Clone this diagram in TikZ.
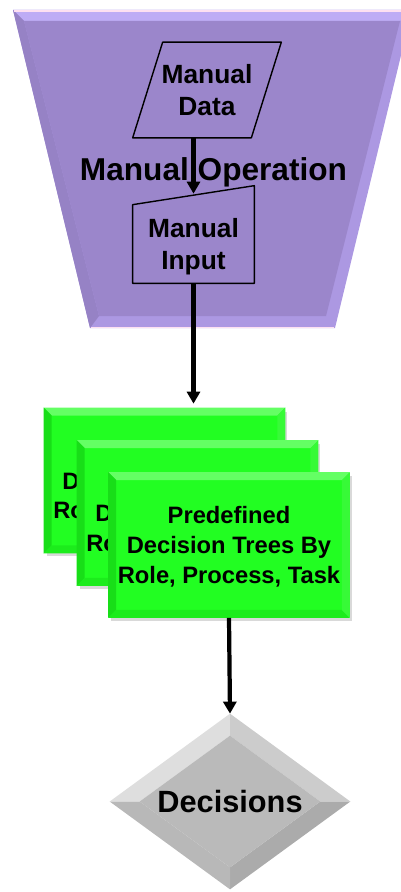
\documentclass[tikz,border=0pt]{standalone}
\usepackage{fontspec}
\setmainfont{Liberation Sans}
\usetikzlibrary{arrows.meta,positioning,shadows,backgrounds}
\definecolor{lilac}{RGB}{155,134,203}
\definecolor{lilacedge}{RGB}{172,152,226}
\definecolor{lilactop}{RGB}{190,172,245}
\definecolor{leaf}{RGB}{34,254,34}
\definecolor{leaftop}{RGB}{100,255,100}
\definecolor{leafleft}{RGB}{24,222,24}
\definecolor{leafbottom}{RGB}{28,236,28}
\definecolor{leafright}{RGB}{55,250,55}
% bevelled edge of a box node
\newcommand\bevelrect[1]{%
  \fill[leaftop] (#1.north west) -- (#1.north east) -- ([shift={(-8,8)}]#1.north east) -- ([shift={(8,8)}]#1.north west) -- cycle;
  \fill[leafleft] (#1.north west) -- ([shift={(8,8)}]#1.north west) -- ([shift={(8,-8)}]#1.south west) -- (#1.south west) -- cycle;
  \fill[leafbottom] (#1.south west) -- ([shift={(8,-8)}]#1.south west) -- ([shift={(-8,-8)}]#1.south east) -- (#1.south east) -- cycle;
  \fill[leafright] (#1.south east) -- ([shift={(-8,-8)}]#1.south east) -- ([shift={(-8,8)}]#1.north east) -- (#1.north east) -- cycle;}
\begin{document}
\begin{tikzpicture}[x=0.02cm, y=-0.02cm, line join=round, >={Triangle[width=0.26cm,length=0.24cm]},
    box/.style={fill=leaf, minimum width=4.82cm, minimum height=2.9cm, inner sep=0pt, align=center,
      font=\bfseries\fontsize{13.5}{17}\selectfont, text depth=-3.7pt,
      drop shadow={shadow xshift=0.05cm, shadow yshift=-0.07cm, opacity=0.3}},
    manual/.style={inner sep=0pt, align=center, font=\bfseries\fontsize{15}{18.5}\selectfont, text depth=-1pt},
    flow/.style={->, line width=2.4pt},
    outline/.style={draw, line width=0.8pt}]
  \useasboundingbox (0,0) rectangle (401,892);
  % funnel
  \fill[lilacedge] (13,10) -- (412,10) -- (335,328) -- (90,328) -- cycle;
  \fill[lilactop] (13,10) -- (412,10) -- (400,21) -- (24,21) -- cycle;
  \fill[lilac!97!black] (13,10) -- (24,21) -- (99,316) -- (90,328) -- cycle;
  \fill[lilac] (24,21) -- (400,21) -- (326,316) -- (99,316) -- cycle;
  \draw[magenta!12, line width=1pt] (14,11) -- (401,11) (91,327.5) -- (334,327.5);

  \node[manual, minimum width=2.36cm, minimum height=1.9cm] (data) at (207,90) {Manual\\Data};
  \draw[outline] ([xshift=0.3cm]data.north west) -- ([xshift=0.3cm]data.north east) -- ([xshift=-0.3cm]data.south east) -- ([xshift=-0.3cm]data.south west) -- cycle;
  \node[manual, minimum width=2.42cm, minimum height=1.56cm] (input) at (193.5,244) {Manual\\Input};
  \draw[outline] (input.north west) -- ([yshift=0.38cm]input.north east) -- (input.south east) -- (input.south west) -- cycle;
  \draw[flow] (data.south -| input.north) -- ([yshift=0.22cm]input.north);
  \node[font=\bfseries\fontsize{18}{20}\selectfont] (op) at (213.5,172) {Manual Operation};

  % stacked decision trees
  \node[box] (back) at (164.5,480.5) {Predefined\\Decision Trees By\\Role, Process, Task};
  \bevelrect{back}
  \node[box] (mid) at ([shift={(33,32.5)}]back.center) {Predefined\\Decision Trees By\\Role, Process, Task};
  \bevelrect{mid}
  \node[box] (front) at ([shift={(31.5,32)}]mid.center) {Predefined\\Decision Trees By\\Role, Process, Task};
  \bevelrect{front}
  \draw[flow] (input.south) -- ([yshift=0.08cm]input.south |- back.north);

  % decisions
  \node[font=\bfseries\fontsize{17.5}{20}\selectfont, minimum width=4.8cm, minimum height=3.5cm, inner sep=0pt] (dec) at (230,801.5) {Decisions};
  \begin{scope}[on background layer]
    \fill[black!13] (dec.west) -- (dec.north) -- ([shift={(0,22)}]dec.north) -- ([shift={(30,0)}]dec.west) -- cycle;
    \fill[black!20] (dec.north) -- (dec.east) -- ([shift={(-30,0)}]dec.east) -- ([shift={(0,22)}]dec.north) -- cycle;
    \fill[black!33] (dec.east) -- (dec.south) -- ([shift={(0,-22)}]dec.south) -- ([shift={(-30,0)}]dec.east) -- cycle;
    \fill[black!28] (dec.south) -- (dec.west) -- ([shift={(30,0)}]dec.west) -- ([shift={(0,-22)}]dec.south) -- cycle;
    \fill[black!27] ([shift={(0,22)}]dec.north) -- ([shift={(-30,0)}]dec.east) -- ([shift={(0,-22)}]dec.south) -- ([shift={(30,0)}]dec.west) -- cycle;
  \end{scope}
  \draw[flow] (front.south) -- (dec.north);
\end{tikzpicture}
\end{document}
